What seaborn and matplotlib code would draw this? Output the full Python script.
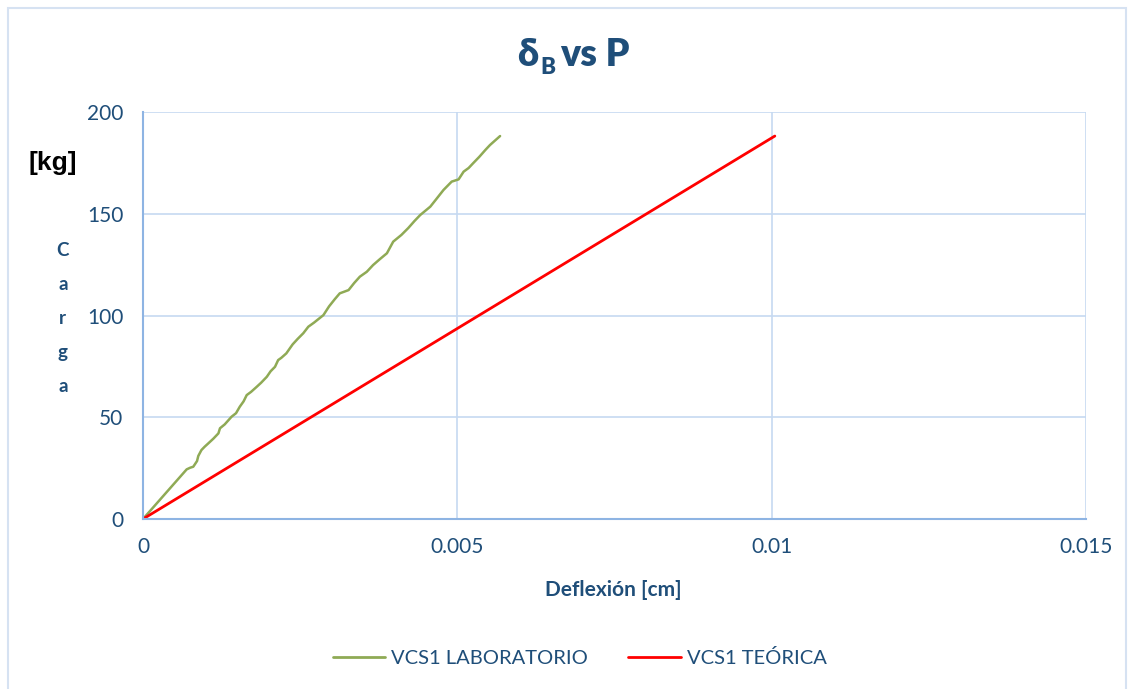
import numpy as np
import pandas as pd
import matplotlib
matplotlib.use("Agg")
import matplotlib.pyplot as plt
import seaborn as sns
from matplotlib.patches import Rectangle
from matplotlib.lines import Line2D

# valores
lab_x = [0, 0.000695, 0.00075, 0.0008, 0.00086, 0.00088, 0.00093, 0.00098, 0.00104, 0.00112,
         0.0012, 0.001225, 0.0013, 0.00141, 0.00148, 0.00154, 0.0016, 0.00165, 0.00172,
         0.00181, 0.00188, 0.00197, 0.00203, 0.0021, 0.00215, 0.0022, 0.00228, 0.00238,
         0.00246, 0.00255, 0.00263, 0.00272, 0.00287, 0.00296, 0.00305, 0.00313, 0.00327,
         0.00336, 0.00345, 0.00356, 0.00366, 0.00376, 0.00388, 0.00398, 0.00411, 0.00422,
         0.00432, 0.00441, 0.00457, 0.00466, 0.00478, 0.00491, 0.00502, 0.0051, 0.00518,
         0.00525, 0.00535, 0.00545, 0.00552, 0.0056, 0.00568]
lab_y = [0, 24.4, 25.2, 25.7, 28.5, 31.0, 33.9, 35.5, 37.2, 39.5,
         42.1, 44.6, 46.5, 50.3, 52.0, 55.2, 57.8, 60.9, 62.5,
         65.0, 67.0, 69.9, 72.6, 74.8, 78.1, 79.2, 81.4, 85.8,
         88.5, 91.3, 94.5, 96.5, 100.2, 104.5, 108.0, 110.9, 112.5,
         116.0, 119.1, 121.5, 124.8, 127.5, 130.6, 136.3, 139.6, 143.0,
         146.5, 149.4, 153.5, 157.0, 161.7, 165.8, 166.9, 170.7, 172.5,
         174.8, 178.0, 181.5, 183.8, 186.0, 188.2]
teo_x = [0, 0.01005]
teo_y = [0, 188.2]

serie_lab = "VCS1 LABORATORIO"
serie_teo = "VCS1 TEÓRICA"

df = pd.concat([
    pd.DataFrame({"x": lab_x, "y": lab_y, "serie": serie_lab}),
    pd.DataFrame({"x": teo_x, "y": teo_y, "serie": serie_teo}),
])

sns.set_theme(style="white")
plt.rcParams["font.family"] = ["Lato", "DejaVu Sans"]

azul = "#1f4e79"
fig = plt.figure(figsize=(11.32, 6.89), dpi=100)
ax = fig.add_axes([0.1263, 0.2467, 0.8331, 0.5907])

sns.lineplot(data=df, x="x", y="y", hue="serie", sort=False, estimator=None,
             palette={serie_lab: "#8faa55", serie_teo: "#ff0000"}, linewidth=1.8,
             ax=ax, legend=False)
ax.get_lines()[1].set_linewidth(2.0)

ax.set_xlim(0, 0.015)
ax.set_ylim(0, 200)
ax.set_xticks([0, 0.005, 0.01, 0.015])
ax.set_xticklabels(["0", "0.005", "0.01", "0.015"])
ax.set_yticks([0, 50, 100, 150, 200])
ax.grid(True, color="#c6d9f1", linewidth=1.2)
for s in ["top", "right"]:
    ax.spines[s].set_visible(False)
for s in ["left", "bottom"]:
    ax.spines[s].set_color("#8eb4e3")
    ax.spines[s].set_linewidth(1.5)
ax.tick_params(axis="x", colors=azul, labelsize=15, pad=13, length=0)
ax.tick_params(axis="y", colors=azul, labelsize=15, pad=14, length=0)
ax.set_xlabel("")
ax.set_ylabel("")

fig.text(0.5415, 0.143, "Deflexión [cm]", ha="center", va="center",
         color=azul, fontsize=15, fontweight="bold")
# título: δ con subíndice B
fig.text(0.4565, 0.92, "δ", ha="left", va="center", color=azul, fontsize=27, fontweight="heavy")
fig.text(0.4775, 0.902, "B", ha="left", va="center", color=azul, fontsize=16, fontweight="heavy")
fig.text(0.4945, 0.92, "vs P", ha="left", va="center", color=azul, fontsize=27, fontweight="heavy")
fig.text(0.047, 0.763, "[kg]", ha="center", va="center", color="black",
         fontsize=19, fontweight="bold", family=["Liberation Sans", "DejaVu Sans"])
for i, letra in enumerate("Carga"):
    fig.text(0.0555, 0.637 - i * 0.0494, letra, ha="center", va="center",
             color=azul, fontsize=13.5, fontweight="bold")

# leyenda
handles = [Line2D([0], [0], color="#8faa55", lw=2), Line2D([0], [0], color="#ff0000", lw=2)]
fig.legend(handles, [serie_lab, serie_teo], loc="center", bbox_to_anchor=(0.512, 0.045),
           ncol=2, frameon=False, fontsize=14.5, labelcolor=azul, handlelength=2.6,
           columnspacing=2.0, handletextpad=0.3)

fig.patches.append(Rectangle((0.007, -0.01), 0.988, 0.999, transform=fig.transFigure,
                             fill=False, edgecolor="#d6e2f2", linewidth=1.5))

fig.savefig("out.png", dpi=100)
